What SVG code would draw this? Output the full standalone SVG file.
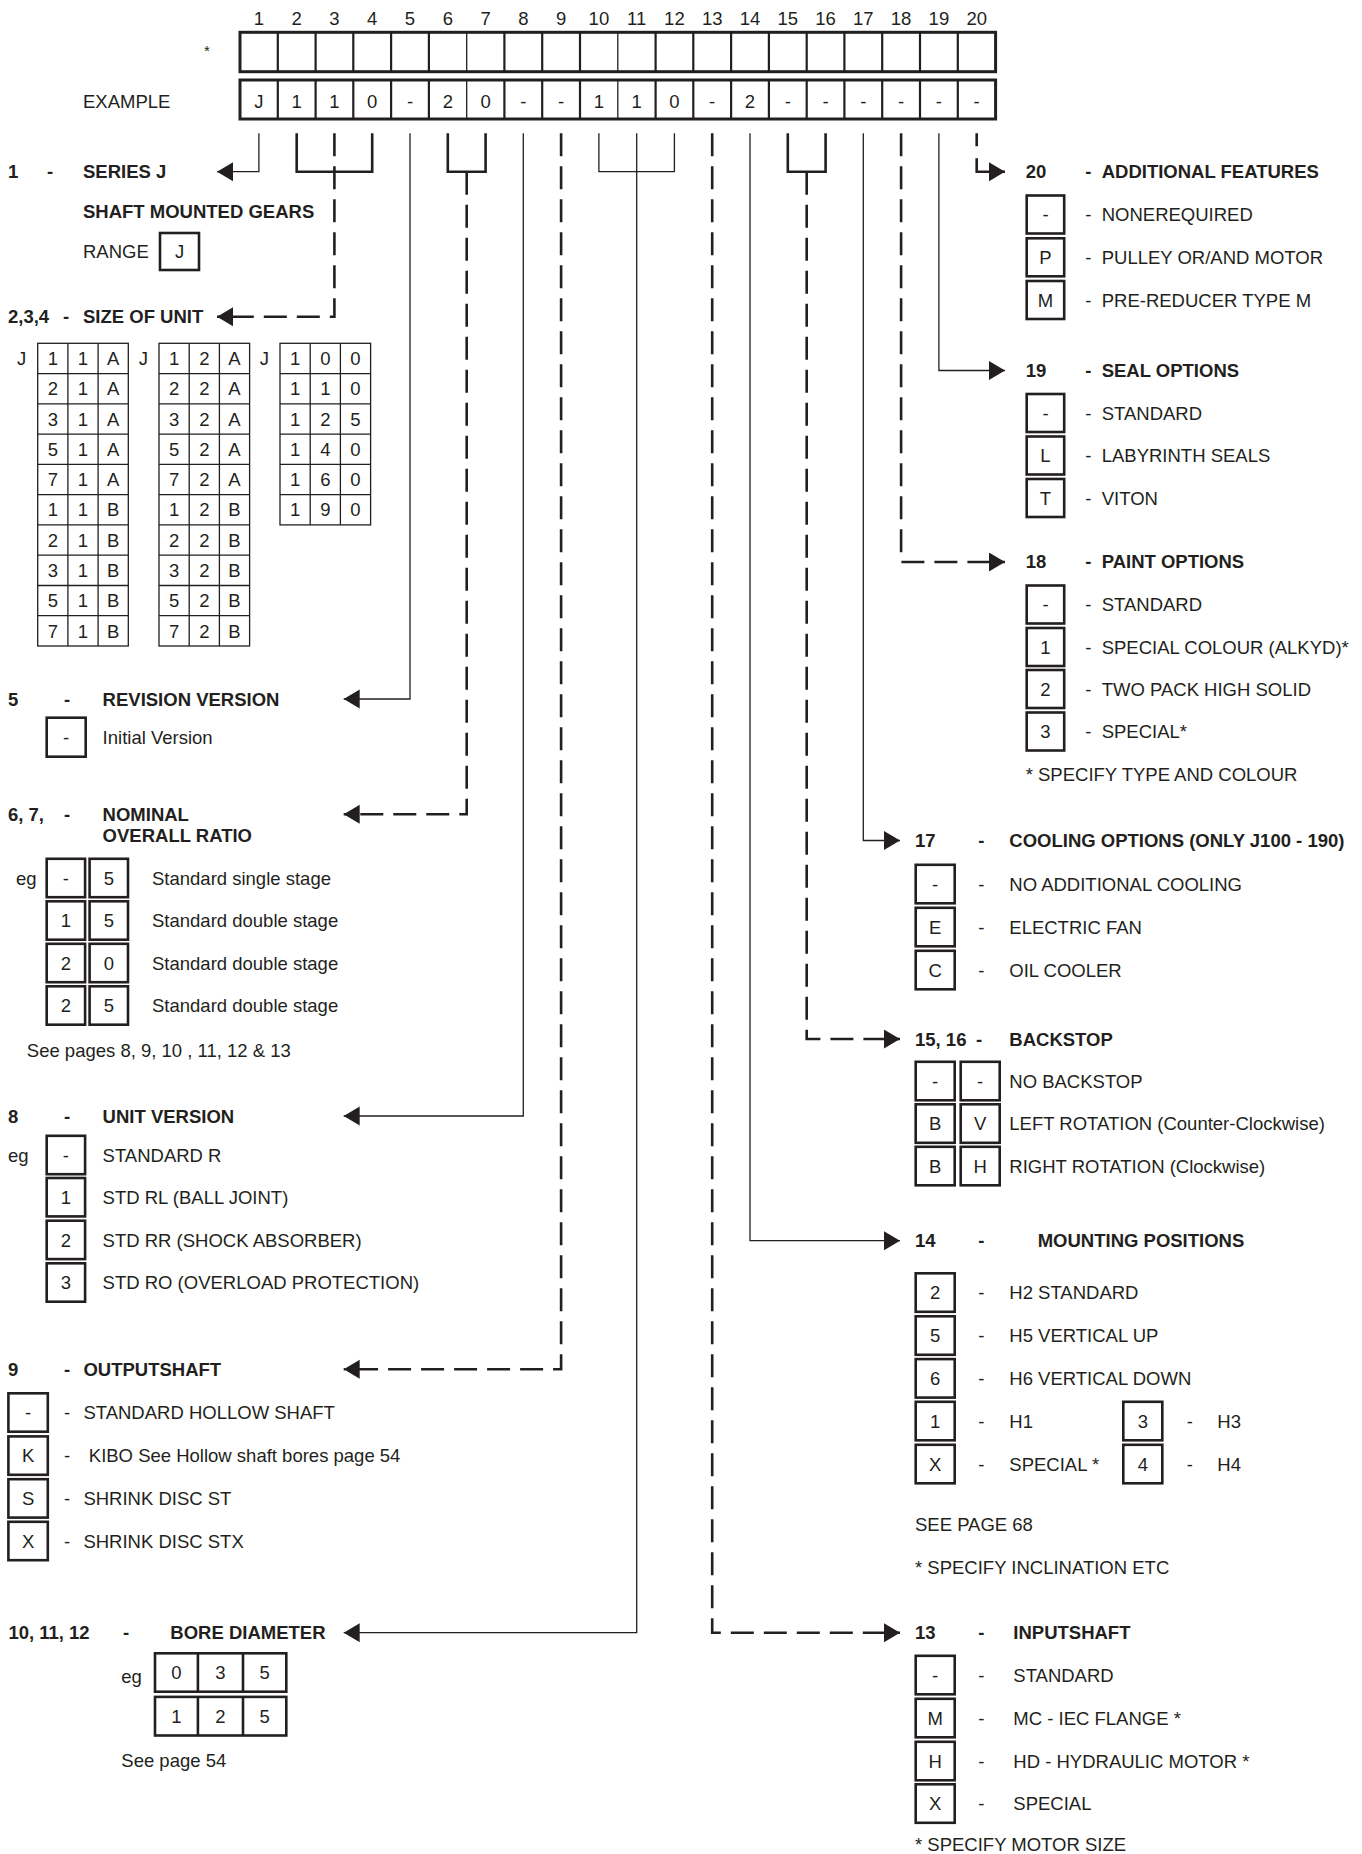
<svg xmlns="http://www.w3.org/2000/svg" width="1362" height="1854" viewBox="0 0 1362 1854">
<defs>
<style>
text { font-family: "Liberation Sans", Arial, Helvetica, sans-serif; font-size: 18.5px; fill: #231f20; }
.b { font-weight: bold; }
.m { text-anchor: middle; }
.bx { fill: none; stroke: #231f20; stroke-width: 2.6; }
.g { fill: none; stroke: #231f20; stroke-width: 1.3; }
.ln { fill: none; stroke: #231f20; stroke-width: 1.3; }
.dl { fill: none; stroke: #231f20; stroke-width: 2.6; stroke-dasharray: 23 10; }
.br { fill: none; stroke: #231f20; stroke-width: 2.6; }
.thick { fill: none; stroke: #231f20; stroke-width: 3; }
.div { fill: none; stroke: #231f20; stroke-width: 2.2; }
</style>
<marker id="ah" markerUnits="userSpaceOnUse" markerWidth="18" markerHeight="20" refX="16" refY="9.5" orient="auto">
<path d="M0,0 L16,9.5 L0,19 z" fill="#231f20" stroke="none"/>
</marker>
</defs>
<rect width="1362" height="1854" fill="#ffffff"/>

<g id="header">
<g class="m">
<text x="258.9" y="25">1</text><text x="296.7" y="25">2</text><text x="334.4" y="25">3</text><text x="372.2" y="25">4</text><text x="410" y="25">5</text><text x="447.8" y="25">6</text><text x="485.6" y="25">7</text><text x="523.3" y="25">8</text><text x="561.1" y="25">9</text><text x="598.9" y="25">10</text><text x="636.7" y="25">11</text><text x="674.4" y="25">12</text><text x="712.2" y="25">13</text><text x="750" y="25">14</text><text x="787.8" y="25">15</text><text x="825.6" y="25">16</text><text x="863.3" y="25">17</text><text x="901.1" y="25">18</text><text x="938.9" y="25">19</text><text x="976.7" y="25">20</text>
</g>
<text x="207" y="56" class="m" style="font-size:15px">*</text>
<text x="83" y="108.3">EXAMPLE</text>
<rect x="240" y="32.3" width="755.6" height="39.4" class="thick"/>
<rect x="240" y="80" width="755.6" height="39" class="thick"/>
<path class="div" d="M277.8,32.3V71.7M315.6,32.3V71.7M353.3,32.3V71.7M391.1,32.3V71.7M428.9,32.3V71.7M504.4,32.3V71.7M542.2,32.3V71.7M580,32.3V71.7M655.6,32.3V71.7M693.3,32.3V71.7M731.1,32.3V71.7M768.9,32.3V71.7M806.7,32.3V71.7M844.4,32.3V71.7M882.2,32.3V71.7M920,32.3V71.7M957.8,32.3V71.7M277.8,80V119M315.6,80V119M353.3,80V119M391.1,80V119M428.9,80V119M504.4,80V119M542.2,80V119M580,80V119M655.6,80V119M693.3,80V119M731.1,80V119M768.9,80V119M806.7,80V119M844.4,80V119M882.2,80V119M920,80V119M957.8,80V119"/>
<path class="g" d="M466.7,32.3V71.7M617.8,32.3V71.7M466.7,80V119M617.8,80V119"/>
<g class="m">
<text x="258.9" y="108.3">J</text><text x="296.7" y="108.3">1</text><text x="334.4" y="108.3">1</text><text x="372.2" y="108.3">0</text><text x="410" y="108.3">-</text><text x="447.8" y="108.3">2</text><text x="485.6" y="108.3">0</text><text x="523.3" y="108.3">-</text><text x="561.1" y="108.3">-</text><text x="598.9" y="108.3">1</text><text x="636.7" y="108.3">1</text><text x="674.4" y="108.3">0</text><text x="712.2" y="108.3">-</text><text x="750" y="108.3">2</text><text x="787.8" y="108.3">-</text><text x="825.6" y="108.3">-</text><text x="863.3" y="108.3">-</text><text x="901.1" y="108.3">-</text><text x="938.9" y="108.3">-</text><text x="976.7" y="108.3">-</text>
</g>
</g>

<g id="connectors">
<path class="ln" d="M258.9,133.3V171.7H217" marker-end="url(#ah)"/>
<path class="br" d="M296.7,133.3V171.7H372.2V133.3"/>
<path class="dl" d="M334.4,133.3V316.7H217" marker-end="url(#ah)"/>
<path class="ln" d="M410,133.3V699H343.7" marker-end="url(#ah)"/>
<path class="br" d="M447.8,133.3V171.7H485.6V133.3"/>
<path class="dl" d="M466.7,171.7V814.3H343.7" marker-end="url(#ah)"/>
<path class="ln" d="M523.3,133.3V1116H343.7" marker-end="url(#ah)"/>
<path class="dl" d="M561.1,133.3V1369.3H343.7" marker-end="url(#ah)"/>
<path class="ln" d="M598.9,133.3V171.7H674.4V133.3"/>
<path class="ln" d="M636.7,133.3V1632.7H343.7" marker-end="url(#ah)"/>
<path class="dl" d="M712.2,133.3V1632.7H900" marker-end="url(#ah)"/>
<path class="ln" d="M750,133.3V1240.7H900" marker-end="url(#ah)"/>
<path class="br" d="M787.8,133.3V171.7H825.6V133.3"/>
<path class="dl" d="M806.7,171.7V1039H900" marker-end="url(#ah)"/>
<path class="ln" d="M863.3,133.3V840.5H900" marker-end="url(#ah)"/>
<path class="dl" d="M901.1,133.3V562H1005" marker-end="url(#ah)"/>
<path class="ln" d="M938.9,133.3V370.5H1005" marker-end="url(#ah)"/>
<path class="dl" style="stroke-dasharray:13 12 60" d="M976.7,133.3V171.7H1005" marker-end="url(#ah)"/>
</g>

<g id="n1">
<text x="8" y="178.3" class="b">1</text><text x="47" y="178.3" class="b">-</text><text x="83" y="178.3" class="b">SERIES J</text>
<text x="83" y="218.3" class="b">SHAFT MOUNTED GEARS</text>
<text x="83" y="258.3">RANGE</text>
<rect x="160" y="233" width="39" height="37" class="bx"/>
<text x="179.5" y="258.1" class="m">J</text>
</g>

<g id="n234">
<text x="8" y="323.3" class="b">2,3,4</text><text x="63" y="323.3" class="b">-</text><text x="83" y="323.3" class="b">SIZE OF UNIT</text>
<text x="21.7" y="365.1" class="m">J</text><text x="143.3" y="365.1" class="m">J</text><text x="264.3" y="365.1" class="m">J</text>
<rect x="37.7" y="343.3" width="90.6" height="302.7" class="g"/>
<path class="g" d="M67.9,343.3V646M98.1,343.3V646M37.7,373.6H128.3M37.7,403.8H128.3M37.7,434.1H128.3M37.7,464.4H128.3M37.7,494.7H128.3M37.7,524.9H128.3M37.7,555.2H128.3M37.7,585.5H128.3M37.7,615.7H128.3"/>
<rect x="159" y="343.3" width="90.6" height="302.7" class="g"/>
<path class="g" d="M189.2,343.3V646M219.4,343.3V646M159,373.6H249.6M159,403.8H249.6M159,434.1H249.6M159,464.4H249.6M159,494.7H249.6M159,524.9H249.6M159,555.2H249.6M159,585.5H249.6M159,615.7H249.6"/>
<rect x="280" y="343.3" width="90.6" height="181.6" class="g"/>
<path class="g" d="M310.2,343.3V524.9M340.4,343.3V524.9M280,373.6H370.6M280,403.8H370.6M280,434.1H370.6M280,464.4H370.6M280,494.7H370.6"/>
<g class="m">
<text x="52.8" y="365.1">1</text><text x="83" y="365.1">1</text><text x="113.2" y="365.1">A</text>
<text x="52.8" y="395.3">2</text><text x="83" y="395.3">1</text><text x="113.2" y="395.3">A</text>
<text x="52.8" y="425.6">3</text><text x="83" y="425.6">1</text><text x="113.2" y="425.6">A</text>
<text x="52.8" y="455.9">5</text><text x="83" y="455.9">1</text><text x="113.2" y="455.9">A</text>
<text x="52.8" y="486.1">7</text><text x="83" y="486.1">1</text><text x="113.2" y="486.1">A</text>
<text x="52.8" y="516.4">1</text><text x="83" y="516.4">1</text><text x="113.2" y="516.4">B</text>
<text x="52.8" y="546.7">2</text><text x="83" y="546.7">1</text><text x="113.2" y="546.7">B</text>
<text x="52.8" y="576.9">3</text><text x="83" y="576.9">1</text><text x="113.2" y="576.9">B</text>
<text x="52.8" y="607.2">5</text><text x="83" y="607.2">1</text><text x="113.2" y="607.2">B</text>
<text x="52.8" y="637.5">7</text><text x="83" y="637.5">1</text><text x="113.2" y="637.5">B</text>
<text x="174.1" y="365.1">1</text><text x="204.3" y="365.1">2</text><text x="234.5" y="365.1">A</text>
<text x="174.1" y="395.3">2</text><text x="204.3" y="395.3">2</text><text x="234.5" y="395.3">A</text>
<text x="174.1" y="425.6">3</text><text x="204.3" y="425.6">2</text><text x="234.5" y="425.6">A</text>
<text x="174.1" y="455.9">5</text><text x="204.3" y="455.9">2</text><text x="234.5" y="455.9">A</text>
<text x="174.1" y="486.1">7</text><text x="204.3" y="486.1">2</text><text x="234.5" y="486.1">A</text>
<text x="174.1" y="516.4">1</text><text x="204.3" y="516.4">2</text><text x="234.5" y="516.4">B</text>
<text x="174.1" y="546.7">2</text><text x="204.3" y="546.7">2</text><text x="234.5" y="546.7">B</text>
<text x="174.1" y="576.9">3</text><text x="204.3" y="576.9">2</text><text x="234.5" y="576.9">B</text>
<text x="174.1" y="607.2">5</text><text x="204.3" y="607.2">2</text><text x="234.5" y="607.2">B</text>
<text x="174.1" y="637.5">7</text><text x="204.3" y="637.5">2</text><text x="234.5" y="637.5">B</text>
<text x="295.1" y="365.1">1</text><text x="325.3" y="365.1">0</text><text x="355.5" y="365.1">0</text>
<text x="295.1" y="395.3">1</text><text x="325.3" y="395.3">1</text><text x="355.5" y="395.3">0</text>
<text x="295.1" y="425.6">1</text><text x="325.3" y="425.6">2</text><text x="355.5" y="425.6">5</text>
<text x="295.1" y="455.9">1</text><text x="325.3" y="455.9">4</text><text x="355.5" y="455.9">0</text>
<text x="295.1" y="486.1">1</text><text x="325.3" y="486.1">6</text><text x="355.5" y="486.1">0</text>
<text x="295.1" y="516.4">1</text><text x="325.3" y="516.4">9</text><text x="355.5" y="516.4">0</text>
</g>
</g>

<g id="n5">
<text x="8" y="705.6" class="b">5</text><text x="64" y="705.6" class="b">-</text><text x="102.6" y="705.6" class="b">REVISION VERSION</text>
<rect x="46.7" y="717.7" width="39" height="39" class="bx"/>
<text x="66.2" y="743.8" class="m">-</text>
<text x="102.6" y="744">Initial Version</text>
</g>

<g id="n67">
<text x="8" y="820.9" class="b">6, 7,</text><text x="64" y="820.9" class="b">-</text><text x="102.6" y="820.9" class="b">NOMINAL</text>
<text x="102.6" y="841.6" class="b">OVERALL RATIO</text>
<text x="16" y="884.6">eg</text>
<rect x="46.7" y="858.8" width="38.4" height="38.4" class="bx"/><rect x="89.6" y="858.8" width="38.4" height="38.4" class="bx"/>
<rect x="46.7" y="901.3" width="38.4" height="38.4" class="bx"/><rect x="89.6" y="901.3" width="38.4" height="38.4" class="bx"/>
<rect x="46.7" y="943.8" width="38.4" height="38.4" class="bx"/><rect x="89.6" y="943.8" width="38.4" height="38.4" class="bx"/>
<rect x="46.7" y="986.3" width="38.4" height="38.4" class="bx"/><rect x="89.6" y="986.3" width="38.4" height="38.4" class="bx"/>
<g class="m">
<text x="65.9" y="884.6">-</text><text x="108.8" y="884.6">5</text>
<text x="65.9" y="927.1">1</text><text x="108.8" y="927.1">5</text>
<text x="65.9" y="969.6">2</text><text x="108.8" y="969.6">0</text>
<text x="65.9" y="1012.1">2</text><text x="108.8" y="1012.1">5</text>
</g>
<text x="152" y="884.6">Standard single stage</text>
<text x="152" y="927.1">Standard double stage</text>
<text x="152" y="969.6">Standard double stage</text>
<text x="152" y="1012.1">Standard double stage</text>
<text x="26.8" y="1056.6">See pages 8, 9, 10 , 11, 12 &amp; 13</text>
</g>

<g id="n8">
<text x="8" y="1122.6" class="b">8</text><text x="64" y="1122.6" class="b">-</text><text x="102.6" y="1122.6" class="b">UNIT VERSION</text>
<text x="8" y="1161.6">eg</text>
<rect x="46.7" y="1135.8" width="38.4" height="38.4" class="bx"/>
<rect x="46.7" y="1178" width="38.4" height="38.4" class="bx"/>
<rect x="46.7" y="1220.7" width="38.4" height="38.4" class="bx"/>
<rect x="46.7" y="1263.3" width="38.4" height="38.4" class="bx"/>
<g class="m">
<text x="65.9" y="1161.6">-</text><text x="65.9" y="1203.8">1</text><text x="65.9" y="1246.5">2</text><text x="65.9" y="1289.1">3</text>
</g>
<text x="102.6" y="1161.6">STANDARD R</text>
<text x="102.6" y="1203.8">STD RL (BALL JOINT)</text>
<text x="102.6" y="1246.5">STD RR (SHOCK ABSORBER)</text>
<text x="102.6" y="1289.1">STD RO (OVERLOAD PROTECTION)</text>
</g>

<g id="n9">
<text x="8" y="1376" class="b">9</text><text x="64" y="1376" class="b">-</text><text x="83.4" y="1376" class="b">OUTPUTSHAFT</text>
<rect x="8.4" y="1393.3" width="39.4" height="38.4" class="bx"/>
<rect x="8.4" y="1436.4" width="39.4" height="38.4" class="bx"/>
<rect x="8.4" y="1479.2" width="39.4" height="38.4" class="bx"/>
<rect x="8.4" y="1521.8" width="39.4" height="38.4" class="bx"/>
<g class="m">
<text x="28.1" y="1419.1">-</text><text x="28.1" y="1462.2">K</text><text x="28.1" y="1505">S</text><text x="28.1" y="1547.6">X</text>
</g>
<text x="64" y="1419.1">-</text><text x="64" y="1462.2">-</text><text x="64" y="1505">-</text><text x="64" y="1547.6">-</text>
<text x="83.4" y="1419.1">STANDARD HOLLOW SHAFT</text>
<text x="88.8" y="1462.2">KIBO See Hollow shaft bores page 54</text>
<text x="83.4" y="1505">SHRINK DISC ST</text>
<text x="83.4" y="1547.6">SHRINK DISC STX</text>
</g>

<g id="n101112">
<text x="8.4" y="1639.3" class="b">10, 11, 12</text><text x="123" y="1639.3" class="b">-</text><text x="170.3" y="1639.3" class="b">BORE DIAMETER</text>
<text x="121.3" y="1683.3">eg</text>
<rect x="155" y="1653.3" width="131.3" height="38.4" class="bx"/>
<path class="bx" d="M197.9,1653.3V1691.7M243,1653.3V1691.7"/>
<rect x="155" y="1696.9" width="131.3" height="38.6" class="bx"/>
<path class="bx" d="M197.9,1696.9V1735.5M243,1696.9V1735.5"/>
<g class="m">
<text x="176.5" y="1679.1">0</text><text x="220.5" y="1679.1">3</text><text x="264.7" y="1679.1">5</text>
<text x="176.5" y="1722.8">1</text><text x="220.5" y="1722.8">2</text><text x="264.7" y="1722.8">5</text>
</g>
<text x="121.3" y="1767.3">See page 54</text>
</g>

<g id="n20">
<text x="1025.7" y="178.1" class="b">20</text><text x="1085.3" y="178.1" class="b">-</text><text x="1101.7" y="178.1" class="b">ADDITIONAL FEATURES</text>
<rect x="1026.7" y="195.5" width="37.5" height="38" class="bx"/>
<rect x="1026.7" y="238.3" width="37.5" height="38" class="bx"/>
<rect x="1026.7" y="281" width="37.5" height="38" class="bx"/>
<g class="m"><text x="1045.5" y="221.1">-</text><text x="1045.5" y="263.9">P</text><text x="1045.5" y="306.6">M</text></g>
<text x="1085.3" y="221.1">-</text><text x="1085.3" y="263.9">-</text><text x="1085.3" y="306.6">-</text>
<text x="1101.7" y="221.1">NONEREQUIRED</text>
<text x="1101.7" y="263.9">PULLEY OR/AND MOTOR</text>
<text x="1101.7" y="306.6">PRE-REDUCER TYPE M</text>
</g>

<g id="n19">
<text x="1025.7" y="377.1" class="b">19</text><text x="1085.3" y="377.1" class="b">-</text><text x="1101.7" y="377.1" class="b">SEAL OPTIONS</text>
<rect x="1026.7" y="394" width="37.5" height="38" class="bx"/>
<rect x="1026.7" y="436.5" width="37.5" height="38" class="bx"/>
<rect x="1026.7" y="479" width="37.5" height="38" class="bx"/>
<g class="m"><text x="1045.5" y="419.6">-</text><text x="1045.5" y="462.1">L</text><text x="1045.5" y="504.6">T</text></g>
<text x="1085.3" y="419.6">-</text><text x="1085.3" y="462.1">-</text><text x="1085.3" y="504.6">-</text>
<text x="1101.7" y="419.6">STANDARD</text>
<text x="1101.7" y="462.1">LABYRINTH SEALS</text>
<text x="1101.7" y="504.6">VITON</text>
</g>

<g id="n18">
<text x="1025.7" y="568.4" class="b">18</text><text x="1085.3" y="568.4" class="b">-</text><text x="1101.7" y="568.4" class="b">PAINT OPTIONS</text>
<rect x="1026.7" y="585.5" width="37.5" height="38" class="bx"/>
<rect x="1026.7" y="628" width="37.5" height="38" class="bx"/>
<rect x="1026.7" y="670" width="37.5" height="38" class="bx"/>
<rect x="1026.7" y="712.5" width="37.5" height="38" class="bx"/>
<g class="m"><text x="1045.5" y="611.1">-</text><text x="1045.5" y="653.6">1</text><text x="1045.5" y="695.6">2</text><text x="1045.5" y="738.1">3</text></g>
<text x="1085.3" y="611.1">-</text><text x="1085.3" y="653.6">-</text><text x="1085.3" y="695.6">-</text><text x="1085.3" y="738.1">-</text>
<text x="1101.7" y="611.1">STANDARD</text>
<text x="1101.7" y="653.6">SPECIAL COLOUR (ALKYD)*</text>
<text x="1101.7" y="695.6">TWO PACK HIGH SOLID</text>
<text x="1101.7" y="738.1">SPECIAL*</text>
<text x="1025.7" y="780.8">* SPECIFY TYPE AND COLOUR</text>
</g>

<g id="n17">
<text x="915" y="847.1" class="b">17</text><text x="978.3" y="847.1" class="b">-</text><text x="1009.3" y="847.1" class="b">COOLING OPTIONS (ONLY J100 - 190)</text>
<rect x="915.7" y="864.8" width="39" height="38.5" class="bx"/>
<rect x="915.7" y="907.8" width="39" height="38.5" class="bx"/>
<rect x="915.7" y="950.8" width="39" height="38.5" class="bx"/>
<g class="m"><text x="935.2" y="890.6">-</text><text x="935.2" y="933.6">E</text><text x="935.2" y="976.6">C</text></g>
<text x="978.3" y="890.6">-</text><text x="978.3" y="933.6">-</text><text x="978.3" y="976.6">-</text>
<text x="1009.3" y="890.6">NO ADDITIONAL COOLING</text>
<text x="1009.3" y="933.6">ELECTRIC FAN</text>
<text x="1009.3" y="976.6">OIL COOLER</text>
</g>

<g id="n1516">
<text x="915" y="1045.6" class="b">15, 16</text><text x="976" y="1045.6" class="b">-</text><text x="1009.3" y="1045.6" class="b">BACKSTOP</text>
<rect x="915.7" y="1061.8" width="39" height="38.5" class="bx"/><rect x="960.7" y="1061.8" width="39" height="38.5" class="bx"/>
<rect x="915.7" y="1104.3" width="39" height="38.5" class="bx"/><rect x="960.7" y="1104.3" width="39" height="38.5" class="bx"/>
<rect x="915.7" y="1146.8" width="39" height="38.5" class="bx"/><rect x="960.7" y="1146.8" width="39" height="38.5" class="bx"/>
<g class="m">
<text x="935.2" y="1087.6">-</text><text x="980.2" y="1087.6">-</text>
<text x="935.2" y="1130.1">B</text><text x="980.2" y="1130.1">V</text>
<text x="935.2" y="1172.6">B</text><text x="980.2" y="1172.6">H</text>
</g>
<text x="1009.3" y="1087.6">NO BACKSTOP</text>
<text x="1009.3" y="1130.1">LEFT ROTATION (Counter-Clockwise)</text>
<text x="1009.3" y="1172.6">RIGHT ROTATION (Clockwise)</text>
</g>

<g id="n14">
<text x="915" y="1247.3" class="b">14</text><text x="978.3" y="1247.3" class="b">-</text><text x="1037.7" y="1247.3" class="b">MOUNTING POSITIONS</text>
<rect x="915.7" y="1273.3" width="39" height="38.5" class="bx"/>
<rect x="915.7" y="1316.3" width="39" height="38.5" class="bx"/>
<rect x="915.7" y="1359.1" width="39" height="38.5" class="bx"/>
<rect x="915.7" y="1401.8" width="39" height="38.5" class="bx"/>
<rect x="915.7" y="1444.8" width="39" height="38.5" class="bx"/>
<rect x="1123.3" y="1401.8" width="39" height="38.5" class="bx"/>
<rect x="1123.3" y="1444.8" width="39" height="38.5" class="bx"/>
<g class="m">
<text x="935.2" y="1299.1">2</text><text x="935.2" y="1342.1">5</text><text x="935.2" y="1384.9">6</text><text x="935.2" y="1427.6">1</text><text x="935.2" y="1470.6">X</text>
<text x="1142.8" y="1427.6">3</text><text x="1142.8" y="1470.6">4</text>
</g>
<text x="978.3" y="1299.1">-</text><text x="978.3" y="1342.1">-</text><text x="978.3" y="1384.9">-</text><text x="978.3" y="1427.6">-</text><text x="978.3" y="1470.6">-</text>
<text x="1009.3" y="1299.1">H2 STANDARD</text>
<text x="1009.3" y="1342.1">H5 VERTICAL UP</text>
<text x="1009.3" y="1384.9">H6 VERTICAL DOWN</text>
<text x="1009.3" y="1427.6">H1</text>
<text x="1009.3" y="1470.6">SPECIAL *</text>
<text x="1186.7" y="1427.6">-</text><text x="1186.7" y="1470.6">-</text>
<text x="1217.3" y="1427.6">H3</text><text x="1217.3" y="1470.6">H4</text>
<text x="915" y="1530.6">SEE PAGE 68</text>
<text x="915" y="1574.3">* SPECIFY INCLINATION ETC</text>
</g>

<g id="n13">
<text x="915" y="1639.3" class="b">13</text><text x="978.3" y="1639.3" class="b">-</text><text x="1013.3" y="1639.3" class="b">INPUTSHAFT</text>
<rect x="915.7" y="1655.8" width="39" height="38.5" class="bx"/>
<rect x="915.7" y="1698.8" width="39" height="38.5" class="bx"/>
<rect x="915.7" y="1741.8" width="39" height="38.5" class="bx"/>
<rect x="915.7" y="1784.3" width="39" height="38.5" class="bx"/>
<g class="m"><text x="935.2" y="1681.6">-</text><text x="935.2" y="1724.6">M</text><text x="935.2" y="1767.6">H</text><text x="935.2" y="1810.1">X</text></g>
<text x="978.3" y="1681.6">-</text><text x="978.3" y="1724.6">-</text><text x="978.3" y="1767.6">-</text><text x="978.3" y="1810.1">-</text>
<text x="1013.3" y="1681.6">STANDARD</text>
<text x="1013.3" y="1724.6">MC - IEC FLANGE *</text>
<text x="1013.3" y="1767.6">HD - HYDRAULIC MOTOR *</text>
<text x="1013.3" y="1810.1">SPECIAL</text>
<text x="915" y="1851">* SPECIFY MOTOR SIZE</text>
</g>
</svg>
